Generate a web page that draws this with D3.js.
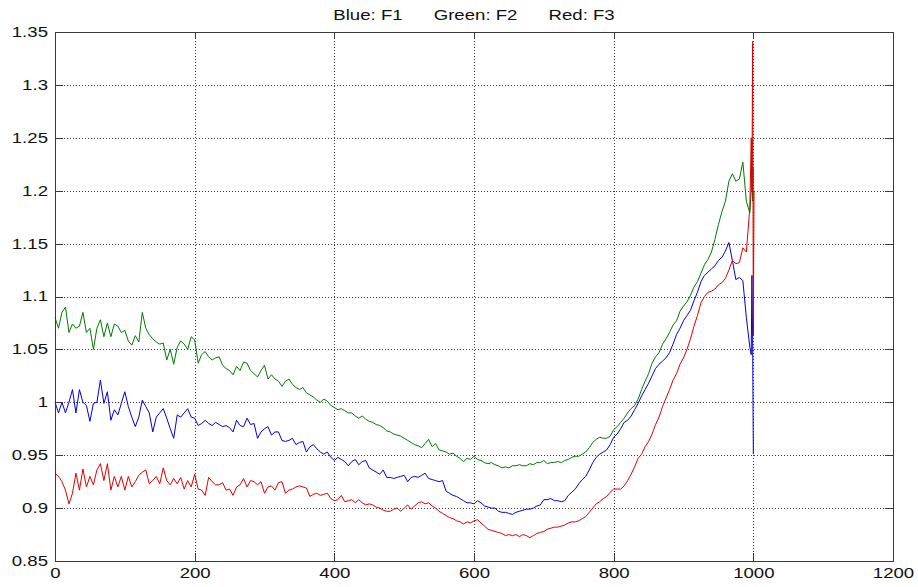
<!DOCTYPE html>
<html lang="en">
<head>
<meta charset="UTF-8" />
<title>Blue: F1 Green: F2 Red: F3</title>
<script src="https://d3js.org/d3.v7.min.js"></script>
<style>
  body { margin: 0; background: #fff; }
  svg { display: block; font-family: "Liberation Sans", Arial, sans-serif; }
  .grid line { stroke: #3c3c3c; stroke-dasharray: 1,2; shape-rendering: crispEdges; }
  .grid .domain { display: none; }
  .axis .domain, .axis line { stroke: #3a3a3a; shape-rendering: crispEdges; }
  .axis text { font-size: 14px; fill: #111; }
  .title { font-size: 14px; fill: #111; white-space: pre; }
</style>
</head>
<body>
<svg id="chart" width="918" height="587"></svg>
<script>
// samples every 5 units from 0 to 995, then the last few points near 1000
const step = 5;

const f1 = [
  1.0, 0.99, 1.0, 0.99, 1.0, 1.012, 0.99, 1.012, 1.0, 0.997,
  0.982, 0.999, 1.0, 1.021, 0.999, 1.01, 0.983, 0.993, 0.988, 0.999,
  1.01, 0.996, 0.986, 0.977, 0.986, 1.002, 0.996, 0.99, 0.972, 0.986,
  0.99, 0.994, 0.985, 0.975, 0.966, 0.988, 0.986, 0.99, 0.994, 0.986,
  0.985, 0.978, 0.98, 0.983, 0.98, 0.978, 0.981, 0.979, 0.977, 0.978,
  0.976, 0.972, 0.983, 0.978, 0.977, 0.985, 0.979, 0.98, 0.966, 0.972,
  0.975, 0.977, 0.969, 0.972, 0.972, 0.964, 0.963, 0.964, 0.966, 0.96,
  0.962, 0.963, 0.953, 0.958, 0.96, 0.956, 0.953, 0.951, 0.953, 0.948,
  0.945, 0.948, 0.946, 0.944, 0.94, 0.944, 0.946, 0.941, 0.944, 0.945,
  0.938, 0.936, 0.934, 0.932, 0.936, 0.929, 0.929, 0.928, 0.929, 0.93,
  0.931, 0.925, 0.929, 0.93, 0.929, 0.931, 0.933, 0.928, 0.927, 0.926,
  0.925, 0.926, 0.916, 0.914, 0.912, 0.911, 0.909, 0.907, 0.905, 0.905,
  0.904, 0.907, 0.905, 0.902, 0.901, 0.9, 0.9, 0.897, 0.896, 0.896,
  0.895, 0.894, 0.896, 0.897, 0.898, 0.899, 0.899, 0.9, 0.902, 0.903,
  0.908, 0.908, 0.909, 0.907, 0.907, 0.906, 0.907, 0.912, 0.915, 0.918,
  0.923, 0.927, 0.93, 0.936, 0.943, 0.948, 0.951, 0.953, 0.955, 0.96,
  0.967, 0.97, 0.975, 0.981, 0.983, 0.987, 0.993, 0.999, 1.006, 1.012,
  1.018, 1.025, 1.032, 1.036, 1.039, 1.042, 1.047, 1.055, 1.064, 1.07,
  1.077, 1.082, 1.087, 1.096, 1.104, 1.114, 1.12, 1.123, 1.126, 1.129,
  1.134, 1.137, 1.143, 1.151, 1.134, 1.116, 1.118, 1.115, 1.08, 1.052
];
const f1Tail = [[997, 1.045], [998, 1.12], [999, 1.06], [1000, 0.951]];

const f2 = [
  1.08, 1.07, 1.085, 1.09, 1.066, 1.074, 1.07, 1.072, 1.085, 1.066,
  1.07, 1.05, 1.07, 1.078, 1.062, 1.075, 1.062, 1.074, 1.072, 1.066,
  1.068, 1.058, 1.054, 1.063, 1.057, 1.085, 1.07, 1.064, 1.06, 1.057,
  1.055, 1.056, 1.04, 1.05, 1.036, 1.052, 1.058, 1.055, 1.05, 1.062,
  1.059, 1.037, 1.045, 1.048, 1.043, 1.04, 1.042, 1.043, 1.035, 1.032,
  1.03, 1.026, 1.034, 1.03, 1.038, 1.037, 1.03, 1.027, 1.024, 1.03,
  1.035, 1.022, 1.026, 1.022, 1.02, 1.015, 1.02, 1.022, 1.017, 1.014,
  1.012, 1.014, 1.009, 1.007, 1.005, 1.002, 1.0, 1.003, 1.001, 0.997,
  0.995, 0.993, 0.994, 0.992, 0.99, 0.99, 0.987, 0.985, 0.987, 0.984,
  0.982, 0.981, 0.979, 0.978, 0.976, 0.973, 0.972, 0.97, 0.969, 0.968,
  0.966, 0.964, 0.962, 0.96, 0.959, 0.957, 0.961, 0.965, 0.958, 0.961,
  0.955, 0.954, 0.953, 0.951, 0.952, 0.949, 0.947, 0.944, 0.947, 0.946,
  0.949, 0.946, 0.945, 0.943, 0.942, 0.943, 0.941, 0.94, 0.938, 0.939,
  0.938, 0.94, 0.94, 0.941, 0.94, 0.94, 0.942, 0.941, 0.943, 0.943,
  0.945, 0.942, 0.943, 0.943, 0.944, 0.943, 0.945, 0.946, 0.948, 0.949,
  0.949, 0.951, 0.953, 0.957, 0.962, 0.965, 0.967, 0.966, 0.966, 0.968,
  0.974, 0.977, 0.981, 0.985, 0.99, 0.994, 0.997, 1.003, 1.012, 1.02,
  1.027, 1.037, 1.043, 1.047, 1.055, 1.06, 1.066, 1.073, 1.077, 1.086,
  1.091, 1.095, 1.101, 1.109, 1.114, 1.122, 1.13, 1.135, 1.142, 1.154,
  1.168, 1.18, 1.19, 1.209, 1.216, 1.209, 1.211, 1.227, 1.19, 1.179
];
const f2Tail = [[997, 1.2], [998, 1.248], [999, 1.19], [1000, 1.222]];

const f3 = [
  0.933, 0.93, 0.925, 0.917, 0.904, 0.914, 0.933, 0.917, 0.937, 0.92,
  0.93, 0.922, 0.936, 0.942, 0.926, 0.942, 0.917, 0.93, 0.92, 0.93,
  0.917, 0.93, 0.92, 0.925, 0.931, 0.934, 0.936, 0.923, 0.926, 0.93,
  0.923, 0.938, 0.926, 0.922, 0.928, 0.923, 0.929, 0.918, 0.926, 0.92,
  0.932, 0.918, 0.917, 0.912, 0.929, 0.925, 0.922, 0.922, 0.924, 0.917,
  0.918, 0.912, 0.92, 0.922, 0.928, 0.92, 0.926, 0.925, 0.922, 0.925,
  0.914, 0.92, 0.921, 0.917, 0.924, 0.925, 0.914, 0.917, 0.918, 0.92,
  0.921, 0.92, 0.919, 0.911, 0.913, 0.914, 0.912, 0.913, 0.914, 0.909,
  0.907, 0.908, 0.912, 0.906, 0.907, 0.908, 0.905, 0.908, 0.905, 0.903,
  0.904, 0.903, 0.901, 0.9, 0.898, 0.897, 0.897, 0.899, 0.9, 0.897,
  0.9, 0.903, 0.899, 0.902, 0.905, 0.906, 0.904, 0.905, 0.902, 0.9,
  0.897, 0.895, 0.893, 0.891, 0.89, 0.888, 0.887, 0.885, 0.887, 0.886,
  0.888, 0.889, 0.886, 0.883, 0.88, 0.879, 0.878, 0.877, 0.876, 0.874,
  0.875, 0.874, 0.875, 0.873, 0.875, 0.874, 0.872, 0.874, 0.876, 0.877,
  0.878, 0.88, 0.881, 0.882, 0.882, 0.883, 0.884, 0.886, 0.887, 0.887,
  0.888, 0.89, 0.892, 0.896, 0.9, 0.904, 0.906, 0.909, 0.911, 0.915,
  0.918, 0.918, 0.918, 0.921, 0.926, 0.932, 0.939, 0.947, 0.951, 0.958,
  0.963, 0.97, 0.979, 0.986, 0.996, 1.004, 1.012, 1.021, 1.027, 1.036,
  1.042, 1.05, 1.06, 1.072, 1.082, 1.094, 1.1, 1.104, 1.105, 1.107,
  1.111, 1.113, 1.117, 1.125, 1.134, 1.131, 1.132, 1.146, 1.142, 1.184
];
const f3Tail = [[997, 1.25], [998, 1.2], [999, 1.341], [1000, 1.063], [1001, 1.2]];

const xTicks = [0, 200, 400, 600, 800, 1000, 1200];
const yTicks = [0.85, 0.9, 0.95, 1.0, 1.05, 1.1, 1.15, 1.2, 1.25, 1.3, 1.35];
const titleText = "Blue: F1      Green: F2      Red: F3";
const stretch = 1.33; // the source image is widened horizontally

const svg = d3.select("#chart");
const mLeft = 55, mRight = 893, mTop = 32, mBottom = 561;

const x = d3.scaleLinear().domain([0, 1200]).range([mLeft, mRight]);
const y = d3.scaleLinear().domain([0.85, 1.35]).range([mBottom, mTop]);

// dotted grid
svg.append("g").attr("class", "grid")
  .attr("transform", `translate(0,${mBottom})`)
  .call(d3.axisBottom(x).tickValues(xTicks.slice(1, -1)).tickSize(-(mBottom - mTop)).tickFormat(""));
svg.append("g").attr("class", "grid")
  .attr("transform", `translate(${mLeft},0)`)
  .call(d3.axisLeft(y).tickValues(yTicks.slice(1, -1)).tickSize(-(mRight - mLeft)).tickFormat(""));

// lines
const line = d3.line().x(d => x(d[0])).y(d => y(d[1]));
const series = [
  { vals: f1, tail: f1Tail, color: "#0000dd" },
  { vals: f2, tail: f2Tail, color: "#007a00" },
  { vals: f3, tail: f3Tail, color: "#e00000" }
];
series.forEach(s => {
  const pts = s.vals.map((v, i) => [i * step, v]).concat(s.tail);
  svg.append("path")
    .datum(pts)
    .attr("fill", "none")
    .attr("stroke", s.color)
    .attr("stroke-width", 1)
    .attr("d", line);
});

// axes, ticks pointing inward on all four sides
const fmt = d3.format("~g");
const gx = svg.append("g").attr("class", "axis")
  .attr("transform", `translate(0,${mBottom})`)
  .call(d3.axisBottom(x).tickValues(xTicks).tickSizeInner(-8).tickSizeOuter(0).tickPadding(7).tickFormat(fmt));
gx.selectAll("text").attr("transform", `scale(${stretch},1)`);

const gy = svg.append("g").attr("class", "axis")
  .attr("transform", `translate(${mLeft},0)`)
  .call(d3.axisLeft(y).tickValues(yTicks).tickSizeInner(-8).tickSizeOuter(0).tickPadding(7).tickFormat(fmt));
gy.selectAll("text").attr("x", 0).attr("transform", `translate(-7,0) scale(${stretch},1)`);

svg.append("g").attr("class", "axis")
  .attr("transform", `translate(0,${mTop})`)
  .call(d3.axisTop(x).tickValues(xTicks).tickSizeInner(-7).tickSizeOuter(0).tickFormat(""));
svg.append("g").attr("class", "axis")
  .attr("transform", `translate(${mRight},0)`)
  .call(d3.axisRight(y).tickValues(yTicks).tickSizeInner(-8).tickSizeOuter(0).tickFormat(""));

svg.append("text")
  .attr("class", "title")
  .attr("text-anchor", "middle")
  .attr("transform", `translate(${(mLeft + mRight) / 2},20) scale(${stretch},1)`)
  .text(titleText);
</script>
</body>
</html>
